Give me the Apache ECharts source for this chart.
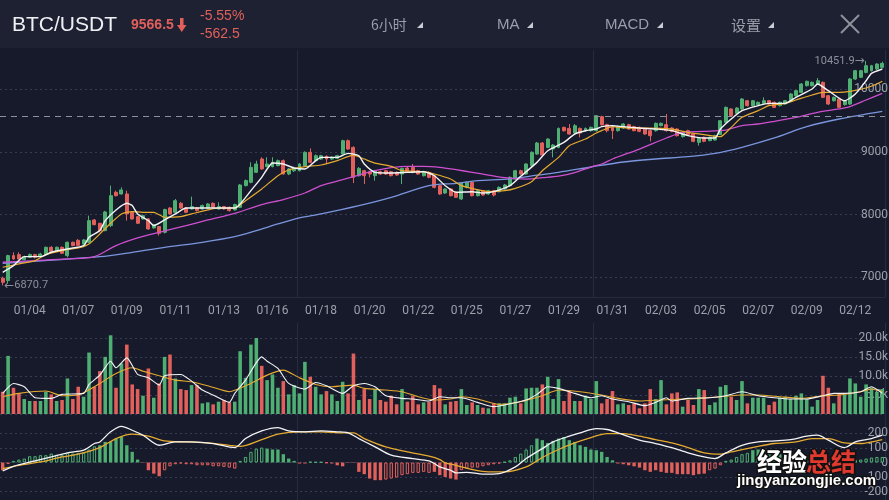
<!DOCTYPE html>
<html>
<head>
<meta charset="utf-8">
<script src="https://cdn.jsdelivr.net/npm/echarts@6/dist/echarts.min.js"></script>
<style>
html,body{margin:0;padding:0;background:#161a2b;overflow:hidden;}
#chart{width:889px;height:500px;}
</style>
</head>
<body>
<div id="chart"></div>
<script>
// ---------------- data ----------------
const dateLabels = ['01/04','01/07','01/09','01/11','01/13','01/16','01/18','01/20','01/22','01/25','01/27','01/29','01/31','02/03','02/05','02/07','02/09','02/12'];

// [open, close, low, high]
const candles = [
[6985,6920,6870.7,7010],[6947,7346,6900,7360],[7346,7293,7280,7399],[7362,7293,7280,7400],[7280,7330,7270,7345],
[7320,7362,7310,7380],[7362,7320,7300,7375],[7330,7372,7320,7390],[7362,7479,7355,7490],[7479,7415,7400,7495],
[7420,7479,7410,7490],[7479,7383,7370,7490],[7346,7559,7320,7570],[7559,7506,7495,7570],[7590,7510,7500,7610],
[7530,7596,7520,7610],[7559,7904,7545,7984],[7915,7840,7830,7930],[7862,7745,7720,7870],[7745,8043,7735,8060],
[7825,8303,7800,8463],[8356,8303,8290,8383],[8330,8394,8320,8436],[8330,8011,7904,8383],[8037,7931,7920,8050],
[7968,7862,7850,7980],[7931,7984,7920,8000],[7931,7771,7760,7945],[7787,7840,7775,7850],[7809,7702,7665,7820],
[7718,8080,7700,8095],[8106,8011,8000,8120],[8037,8223,8020,8250],[8181,8106,8090,8200],[8106,8037,8025,8120],
[8090,8128,8080,8287],[8106,8064,8050,8120],[8090,8144,8080,8160],[8106,8170,8095,8185],[8181,8117,8105,8195],
[8090,8128,8080,8197],[8128,8090,8080,8140],[8117,8064,8050,8130],[8075,8160,8065,8175],[8117,8473,8105,8490],
[8463,8543,8450,8560],[8516,8755,8500,8835],[8675,8808,8665,8861],[8888,8729,8715,8915],[8766,8808,8755,8915],
[8766,8835,8755,8915],[8782,8861,8770,8880],[8861,8649,8640,8880],[8649,8729,8630,8745],[8700,8740,8680,8766],
[8701,8808,8690,8820],[8781,8994,8770,9010],[8994,8834,8820,9057],[8861,8940,8850,8960],[8887,8940,8875,8955],
[8930,8887,8808,8945],[8887,8914,8870,8930],[8898,8940,8885,8955],[8967,9180,8955,9195],[9180,9047,9035,9200],
[9073,8595,8504,9090],[8621,8738,8610,8760],[8701,8621,8489,8715],[8685,8648,8595,8700],[8621,8701,8542,8715],
[8685,8648,8635,8700],[8701,8648,8635,8715],[8685,8621,8610,8700],[8675,8632,8620,8690],[8648,8738,8489,8750],
[8744,8690,8680,8760],[8754,8675,8660,8808],[8701,8648,8635,8715],[8621,8685,8610,8700],[8675,8595,8580,8690],
[8621,8435,8420,8635],[8462,8329,8315,8475],[8345,8409,8330,8420],[8409,8302,8290,8420],[8356,8276,8265,8370],
[8249,8504,8235,8520],[8435,8515,8420,8530],[8515,8302,8290,8530],[8302,8382,8290,8395],[8382,8313,8300,8395],
[8329,8382,8315,8395],[8382,8313,8290,8395],[8366,8435,8355,8450],[8409,8473,8400,8490],[8462,8595,8450,8610],
[8568,8701,8555,8715],[8701,8648,8635,8715],[8648,8808,8635,8820],[8781,8994,8770,9010],[8967,9143,8955,9160],
[9143,8951,8940,9160],[9073,9206,9060,9220],[9047,9111,8914,9125],[9073,9376,9060,9390],[9392,9339,9325,9405],
[9376,9286,9275,9445],[9302,9419,9290,9445],[9376,9302,9233,9390],[9339,9376,9325,9390],[9340,9393,9325,9405],
[9340,9579,9325,9590],[9563,9436,9420,9579],[9436,9340,9313,9450],[9393,9340,9207,9405],[9340,9404,9325,9420],
[9382,9446,9370,9460],[9436,9366,9355,9450],[9404,9340,9330,9420],[9393,9329,9315,9405],[9366,9287,9275,9380],
[9340,9260,9170,9355],[9340,9457,9325,9470],[9420,9457,9410,9470],[9436,9340,9325,9606],[9382,9329,9315,9395],
[9366,9260,9245,9380],[9244,9297,9230,9310],[9340,9276,9265,9355],[9287,9170,9155,9300],[9154,9223,9101,9235],
[9234,9170,9155,9245],[9181,9234,9170,9245],[9191,9260,9180,9275],[9280,9499,9270,9510],[9473,9712,9460,9725],
[9686,9579,9565,9700],[9616,9701,9605,9715],[9686,9845,9675,9860],[9818,9739,9725,9830],[9739,9818,9725,9830],
[9755,9792,9745,9805],[9776,9818,9765,9872],[9818,9765,9755,9830],[9792,9712,9700,9805],[9739,9792,9725,9805],
[9765,9818,9755,9830],[9818,9925,9805,9940],[9898,9978,9885,9990],[9951,10084,9940,10100],[10058,10127,10045,10140],
[10058,10111,10045,10125],[10084,10137,10070,10180],[10111,9872,9860,10125],[9898,9765,9750,9910],[9818,9872,9805,9885],
[9845,9712,9700,9860],[9755,9818,9740,9830],[9765,10164,9750,10180],[10164,10297,10150,10310],[10191,10297,10180,10310],
[10270,10377,10255,10451.9],[10297,10377,10285,10390],[10324,10403,10310,10415],[10350,10414,10335,10441]
];

const volumes = [
5885,15357,6937,5446,3955,3430,3430,3430,5885,5183,
3430,3693,9393,3955,7200,4570,16234,7200,11322,15094,
20794,6937,13340,18338,7814,6587,4832,12024,4306,8077,
15094,15708,9393,6587,6323,7639,7639,2815,3078,2552,
3254,3693,3078,3254,16585,9568,18338,20092,12725,8955,
10446,6937,8691,5183,7639,5446,13778,9832,7200,5183,
6060,5183,3430,8516,5446,15971,3693,6587,3955,6587,
3693,3254,4832,2552,6587,3254,4832,2552,3078,3254,
7639,6762,2552,3254,3430,6587,2377,3078,2377,1675,
1500,2815,2815,2815,4306,4570,2815,6762,6937,6937,
7814,9832,3955,9218,3430,6060,3430,3430,4832,3955,
8691,2815,3955,6060,2552,2815,2377,2815,1500,2815,
6587,3955,8955,2552,5446,5710,1938,3693,2377,6587,
6323,2377,3078,7200,7639,4570,3693,8691,2815,4306,
4306,4306,2377,3254,4306,4570,3955,4832,5446,3955,
1938,3693,10095,6937,2815,5446,5007,9393,8077,4570,
7814,6937,5885,6587
];

const macdHist = [
-53,-10,11,20,27,43,43,50,50,61,
50,50,66,61,66,66,89,111,118,141,
141,164,175,118,73,20,-3,-53,-76,-94,
-53,-26,-12,-7,-12,-12,-19,-19,-19,-26,
-26,-30,-35,-42,11,38,73,95,102,95,
89,89,57,27,11,-7,-7,5,3,3,
-3,-7,-19,-26,-3,-3,-64,-80,-110,-121,
-121,-117,-110,-103,-87,-80,-71,-71,-64,-71,
-64,-87,-99,-110,-117,-53,-42,-35,-35,-26,
-19,-12,-7,4,15,38,61,89,118,164,
153,134,148,164,175,153,141,118,107,89,
84,73,38,15,-7,-12,-19,-26,-35,-53,
-64,-53,-64,-71,-71,-80,-80,-80,-87,-80,
-76,-53,-42,-19,11,20,38,57,66,84,
89,84,73,66,57,43,38,27,20,11,
4,-3,-12,-19,-12,-3,4,11,15,20,
27,34,38,38
];
// index ranges of MACD bars drawn hollow
const macdHollowRanges = [[1,17],[30,43],[44,48],[57,60],[71,79],[85,98],[131,138],[159,163]];

// moving-average lines, sampled [candle index, value]
const ma5Pts = [[0,7080],[2,7187],[4,7330],[7,7330],[9,7399],[12,7452],[15,7506],[16,7639],[18,7745],[19,7904],[21,8075],[23,8181],[24,8144],[25,8011],[27,7904],[28,7825],[30,7915],[32,8011],[34,8106],[37,8106],[40,8106],[43,8106],[44,8170],[46,8383],[48,8595],[49,8728],[50,8824],[52,8808],[54,8744],[56,8728],[58,8861],[59,8914],[62,8914],[64,8978],[66,8940],[67,8808],[69,8675],[72,8664],[75,8675],[78,8685],[80,8621],[82,8462],[84,8356],[87,8366],[89,8345],[91,8366],[94,8462],[96,8611],[99,8834],[101,9020],[104,9153],[106,9286],[108,9339],[110,9366],[111,9404],[113,9420],[115,9404],[118,9382],[121,9366],[124,9340],[127,9260],[130,9223],[132,9223],[133,9366],[135,9526],[137,9659],[140,9739],[142,9776],[145,9776],[147,9872],[150,10005],[151,10084],[153,9978],[156,9818],[158,9925],[160,10137],[161,10254],[163,10324]];
const ma10Pts = [[0,7160],[3,7213],[6,7266],[8,7362],[11,7426],[14,7468],[16,7532],[18,7692],[20,7862],[22,8011],[24,8048],[26,8037],[28,8037],[30,7958],[33,7968],[35,8011],[38,8075],[40,8106],[43,8106],[45,8223],[48,8410],[51,8622],[53,8713],[56,8765],[59,8792],[62,8861],[65,8951],[67,8887],[69,8823],[72,8770],[74,8701],[78,8685],[80,8648],[83,8568],[85,8462],[88,8398],[90,8366],[93,8382],[95,8419],[98,8526],[100,8701],[103,8914],[105,9100],[108,9206],[110,9302],[111,9340],[113,9404],[116,9382],[120,9382],[124,9366],[127,9313],[130,9276],[133,9244],[135,9393],[137,9553],[140,9659],[142,9739],[145,9776],[147,9829],[150,9909],[152,9951],[155,9951],[157,9967],[160,10021],[162,10084],[163,10127]];
const ma30Pts = [[0,7240],[6,7266],[12,7293],[17,7330],[21,7506],[25,7628],[29,7718],[34,7825],[38,7915],[43,8021],[48,8160],[52,8240],[56,8345],[59,8462],[63,8558],[66,8632],[69,8701],[72,8749],[75,8770],[78,8770],[81,8754],[84,8717],[87,8675],[90,8632],[93,8590],[97,8568],[100,8590],[103,8615],[106,8670],[109,8760],[111,8808],[113,8888],[118,9047],[123,9223],[126,9313],[130,9329],[134,9350],[137,9420],[140,9446],[143,9489],[147,9553],[151,9632],[155,9686],[157,9723],[160,9829],[163,9935]];
const ma60Pts = [[0,7224],[18,7330],[24,7399],[30,7479],[37,7559],[43,7649],[47,7745],[51,7851],[55,7947],[59,8011],[66,8143],[72,8276],[79,8463],[84,8500],[88,8542],[94,8569],[99,8630],[103,8675],[109,8760],[115,8840],[121,8888],[127,8925],[132,8978],[137,9074],[143,9223],[149,9404],[155,9526],[163,9648]];
const volMa5Pts = [[0,5446],[2,8077],[4,7200],[6,4306],[9,4131],[11,5183],[15,5446],[16,7814],[18,10270],[20,13954],[21,12200],[23,14830],[25,10446],[27,9568],[29,7639],[30,10095],[33,10446],[35,8691],[37,6323],[39,5007],[42,3078],[43,5446],[45,8955],[48,15094],[49,13954],[51,12024],[53,8077],[56,6587],[58,8341],[60,7463],[63,5446],[65,7463],[67,8077],[69,7200],[71,4832],[74,4131],[76,3955],[79,3430],[81,4570],[83,4306],[85,4306],[88,3078],[91,1938],[93,2377],[97,3693],[99,5183],[101,7200],[103,6762],[106,5446],[109,4306],[111,4832],[113,3955],[116,3254],[119,2202],[121,3078],[123,4306],[124,3430],[127,4131],[131,4306],[134,4832],[137,5885],[140,4832],[143,4306],[146,3955],[149,3955],[152,4832],[154,5446],[156,5446],[159,5885],[161,7200],[163,5446]];
const volMa10Pts = [[0,4570],[3,5446],[8,6060],[11,4832],[14,5007],[18,8077],[21,10709],[24,12200],[26,11322],[29,10095],[32,8955],[35,8516],[38,7463],[42,5885],[46,8077],[49,10270],[52,11585],[55,9568],[58,7814],[61,7200],[65,7639],[67,6762],[71,6323],[74,5885],[77,4570],[80,3693],[83,3955],[85,4570],[88,3955],[92,2552],[96,3254],[100,4832],[103,6323],[107,5885],[111,5007],[114,4131],[118,3430],[122,3693],[126,3955],[129,4131],[133,4570],[137,5007],[140,5007],[144,4570],[148,4131],[152,4832],[155,5007],[159,5885],[161,6587],[163,5885]];
const difPts = [[0,-58],[2,-26],[6,11],[9,38],[12,66],[15,84],[17,130],[18,141],[20,210],[22,248],[24,221],[26,187],[29,118],[32,141],[35,141],[39,130],[43,102],[45,164],[48,216],[51,239],[53,216],[56,210],[59,216],[62,210],[64,203],[66,164],[69,107],[72,50],[76,27],[79,11],[80,-7],[81,-30],[83,-53],[84,-71],[86,-67],[89,-80],[92,-76],[95,-30],[97,27],[100,95],[102,141],[105,180],[107,203],[110,232],[112,226],[114,203],[118,153],[121,130],[124,102],[127,66],[130,38],[132,27],[134,66],[137,118],[140,141],[143,148],[146,157],[149,180],[151,187],[153,153],[156,102],[158,141],[161,164],[163,187]];
const deaPts = [[0,-42],[3,-19],[7,4],[11,38],[14,57],[18,102],[21,164],[24,194],[27,180],[30,148],[34,141],[38,134],[42,118],[44,111],[48,157],[51,194],[55,210],[59,210],[63,203],[65,203],[67,164],[71,107],[75,73],[79,43],[81,20],[82,-3],[84,-19],[87,-48],[90,-64],[93,-64],[97,-30],[100,34],[103,89],[106,134],[109,171],[112,198],[115,198],[118,180],[121,157],[124,134],[127,102],[130,66],[133,57],[135,73],[140,111],[143,130],[147,141],[150,164],[153,164],[156,134],[159,130],[161,141],[163,157]];

const lastPrice = 9566.5;
const priceAxis = {min: 7000, max: 10000, step: 1000};
const volAxis = {min: 0, max: 20000, step: 5000};
const macdAxis = {min: -200, max: 200, step: 100};

// ---------------- styling ----------------
const GREEN = '#4faf72', RED = '#e2605b', BG = '#161a2b', HEADER = '#1e2132';
const GRIDC = '#363c51', SEPC = '#262b3d', LABC = '#9ca0ab';
const FONT = "Roboto, 'Noto Sans', sans-serif";
const CJK = "'Noto Sans CJK SC', sans-serif";
const N = candles.length;
const cats = candles.map((_, i) => String(i));
const LABEL_FIRST = 5, LABEL_STEP = 9;
const SPLITS = [55, 110];

const isHollow = i => macdHollowRanges.some(r => i >= r[0] && i <= r[1]);
const up = i => candles[i][1] >= candles[i][0];

let maxI = 0, minI = 0;
candles.forEach((c, i) => { if (c[3] > candles[maxI][3]) maxI = i; if (c[2] < candles[minI][2]) minI = i; });

const dotted = {show: true, lineStyle: {color: GRIDC, type: [2, 3], width: 1}};
const hiddenX = g => ({type: 'category', gridIndex: g, data: cats, show: false, boundaryGap: true});
const frameY = g => ({type: 'value', gridIndex: g, min: 0, max: 1, show: false, splitLine: {show: false}});
const valY = (g, ax, fmt) => ({
  type: 'value', gridIndex: g, position: 'right', min: ax.min, max: ax.max, interval: ax.step,
  axisLine: {show: false}, axisTick: {show: false}, splitLine: dotted,
  axisLabel: {inside: true, margin: -3, color: LABC, fontSize: 12, fontFamily: FONT, formatter: fmt}
});
const splitX = (g, extra) => Object.assign({
  type: 'category', gridIndex: g, data: cats, boundaryGap: true,
  axisTick: {show: false}, axisLabel: {show: false}, axisLine: {show: false},
  splitLine: {show: true, interval: (i) => SPLITS.indexOf(i) >= 0, lineStyle: {color: SEPC, width: 1}}
}, extra || {});
const lineS = (x, y, data, color, w, smooth) => ({
  type: 'line', xAxisIndex: x, yAxisIndex: y, data: data, symbol: 'none', smooth: smooth,
  clip: false, lineStyle: {color: color, width: w}, itemStyle: {color: color}, silent: true
});
const extremeLabel = (idx, val, pos, text) => ({
  type: 'scatter', xAxisIndex: 1, yAxisIndex: 1, clip: false, silent: true, z: 5,
  symbol: 'circle', symbolSize: 1, itemStyle: {color: 'rgba(0,0,0,0)'},
  data: [[idx, val]],
  label: {show: true, position: pos, distance: 1, color: '#a9adb7', fontSize: 11, fontFamily: FONT, formatter: () => text,
    rich: {a: {fontFamily: "'DejaVu Sans'", fontSize: 12, color: '#a9adb7'}}},
  labelLayout: {hideOverlap: false}
});

const gridBase = {left: 0, right: 4, containLabel: false, outerBoundsMode: 'none'};
const option = {
  animation: false,
  backgroundColor: BG,
  grid: [
    Object.assign({top: 50, height: 247}, gridBase),        // 0 frame price
    Object.assign({top: 89.3, height: 188}, gridBase),      // 1 price
    Object.assign({top: 323, height: 90}, gridBase),        // 2 frame volume
    Object.assign({top: 338.3, height: 75.7}, gridBase),    // 3 volume
    Object.assign({top: 413, height: 87}, gridBase),        // 4 frame macd
    Object.assign({top: 433.3, height: 58.4}, gridBase)     // 5 macd
  ],
  xAxis: [
    splitX(0, {
      axisLine: {show: true, lineStyle: {color: SEPC, width: 1}},
      axisLabel: {show: true, margin: 8, color: LABC, fontSize: 12, fontFamily: FONT,
        interval: (i) => i >= LABEL_FIRST && (i - LABEL_FIRST) % LABEL_STEP === 0,
        formatter: (v, i) => dateLabels[(i - LABEL_FIRST) / LABEL_STEP] || ''}
    }),
    hiddenX(1),
    splitX(2, {position: 'top', axisLine: {show: true, lineStyle: {color: SEPC, width: 1}}}),
    hiddenX(3),
    splitX(4),
    hiddenX(5)
  ],
  yAxis: [
    frameY(0),
    valY(1, priceAxis, v => String(v)),
    frameY(2),
    valY(3, volAxis, v => v === 0 ? '' : (v / 1000).toFixed(1) + 'k'),
    frameY(4),
    valY(5, macdAxis, v => String(v))
  ],
  series: [
    {
      type: 'candlestick', xAxisIndex: 1, yAxisIndex: 1, data: candles, barWidth: '64%', clip: false, silent: true,
      itemStyle: {color: GREEN, color0: RED, borderColor: GREEN, borderColor0: RED, borderWidth: 1},
      markLine: {silent: true, symbol: ['none', 'none'], label: {show: false},
        lineStyle: {color: '#8d919d', type: [6, 5], width: 1}, data: [{yAxis: lastPrice}]}
    },
    lineS(1, 1, ma60Pts, '#7b95de', 1.3, 0.3),
    lineS(1, 1, ma30Pts, '#cf4fcf', 1.3, 0.3),
    lineS(1, 1, ma10Pts, '#e6aa30', 1.2, 0.2),
    lineS(1, 1, ma5Pts, '#f4f4f6', 1.4, 0.2),
    extremeLabel(maxI, candles[maxI][3], 'left', candles[maxI][3].toFixed(1) + '{a|→}'),
    extremeLabel(minI, candles[minI][2], 'right', '{a|←}' + candles[minI][2].toFixed(1)),
    {
      type: 'bar', xAxisIndex: 3, yAxisIndex: 3, barWidth: '66%', clip: false, silent: true,
      data: volumes.map((v, i) => ({value: v, itemStyle: {color: up(i) ? GREEN : RED}}))
    },
    lineS(3, 3, volMa10Pts, '#e6aa30', 1.1, 0.2),
    lineS(3, 3, volMa5Pts, '#f4f4f6', 1.1, 0.2),
    {
      type: 'bar', xAxisIndex: 5, yAxisIndex: 5, barWidth: '62%', clip: false, silent: true,
      data: macdHist.map((v, i) => {
        const c = v >= 0 ? GREEN : RED;
        return {value: v, itemStyle: isHollow(i) ? {color: BG, borderColor: c, borderWidth: 1} : {color: c}};
      })
    },
    lineS(5, 5, deaPts, '#e6aa30', 1.3, 0.3),
    lineS(5, 5, difPts, '#f4f4f6', 1.3, 0.3)
  ],
  graphic: [
    {type: 'rect', silent: true, z: -1, shape: {x: 0, y: 0, width: 889, height: 48}, style: {fill: HEADER}},
    {type: 'text', silent: true, x: 12, y: 25, style: {text: 'BTC/USDT', fill: '#eef0f4', font: "21px 'Liberation Sans'", verticalAlign: 'middle'}},
    {type: 'text', silent: true, x: 131, y: 25, style: {text: '9566.5', fill: RED, font: "bold 14px 'Liberation Sans'", verticalAlign: 'middle'}},
    {type: 'polygon', silent: true, shape: {points: [[180,18],[183.5,18],[183.5,25],[186.5,25],[181.75,32],[177,25],[180,25]]}, style: {fill: RED}},
    {type: 'text', silent: true, x: 200, y: 16, style: {text: '-5.55%', fill: RED, font: "14px 'Liberation Sans'", verticalAlign: 'middle'}},
    {type: 'text', silent: true, x: 200, y: 34, style: {text: '-562.5', fill: RED, font: "14px 'Liberation Sans'", verticalAlign: 'middle'}},
    {type: 'text', silent: true, x: 371, y: 25, style: {text: '6小时', fill: '#9a9eaa', font: "14px " + CJK, verticalAlign: 'middle'}},
    {type: 'polygon', silent: true, shape: {points: [[417,28],[423,28],[423,22]]}, style: {fill: '#c9ccd4'}},
    {type: 'text', silent: true, x: 497, y: 25, style: {text: 'MA', fill: '#9a9eaa', font: "15px 'Liberation Sans'", verticalAlign: 'middle'}},
    {type: 'polygon', silent: true, shape: {points: [[527,28],[533,28],[533,22]]}, style: {fill: '#c9ccd4'}},
    {type: 'text', silent: true, x: 605, y: 25, style: {text: 'MACD', fill: '#9a9eaa', font: "15px 'Liberation Sans'", verticalAlign: 'middle'}},
    {type: 'polygon', silent: true, shape: {points: [[657,28],[663,28],[663,22]]}, style: {fill: '#c9ccd4'}},
    {type: 'text', silent: true, x: 731, y: 25, style: {text: '设置', fill: '#9a9eaa', font: "15px " + CJK, verticalAlign: 'middle'}},
    {type: 'polygon', silent: true, shape: {points: [[768,28],[774,28],[774,22]]}, style: {fill: '#c9ccd4'}},
    {type: 'line', silent: true, shape: {x1: 841, y1: 15, x2: 859, y2: 33}, style: {stroke: '#8e929d', lineWidth: 2}},
    {type: 'line', silent: true, shape: {x1: 859, y1: 15, x2: 841, y2: 33}, style: {stroke: '#8e929d', lineWidth: 2}},
    {type: 'text', silent: true, z: 100, x: 757, y: 461, style: {text: '经验', fill: '#ffffff', stroke: '#111111', lineWidth: 3, font: "bold 25px " + CJK, verticalAlign: 'middle'}},
    {type: 'text', silent: true, z: 100, x: 806, y: 461, style: {text: '总结', fill: '#e0392f', stroke: '#111111', lineWidth: 3, font: "bold 25px " + CJK, verticalAlign: 'middle'}},
    {type: 'text', silent: true, z: 100, x: 737, y: 481, style: {text: 'jingyanzongjie.com', fill: '#ffffff', stroke: '#111111', lineWidth: 2.5, font: "bold 15px 'Liberation Sans'", verticalAlign: 'middle'}}
  ]
};

const chart = echarts.init(document.getElementById('chart'), null, {renderer: 'canvas', width: 889, height: 500});
chart.setOption(option);
</script>
</body>
</html>
